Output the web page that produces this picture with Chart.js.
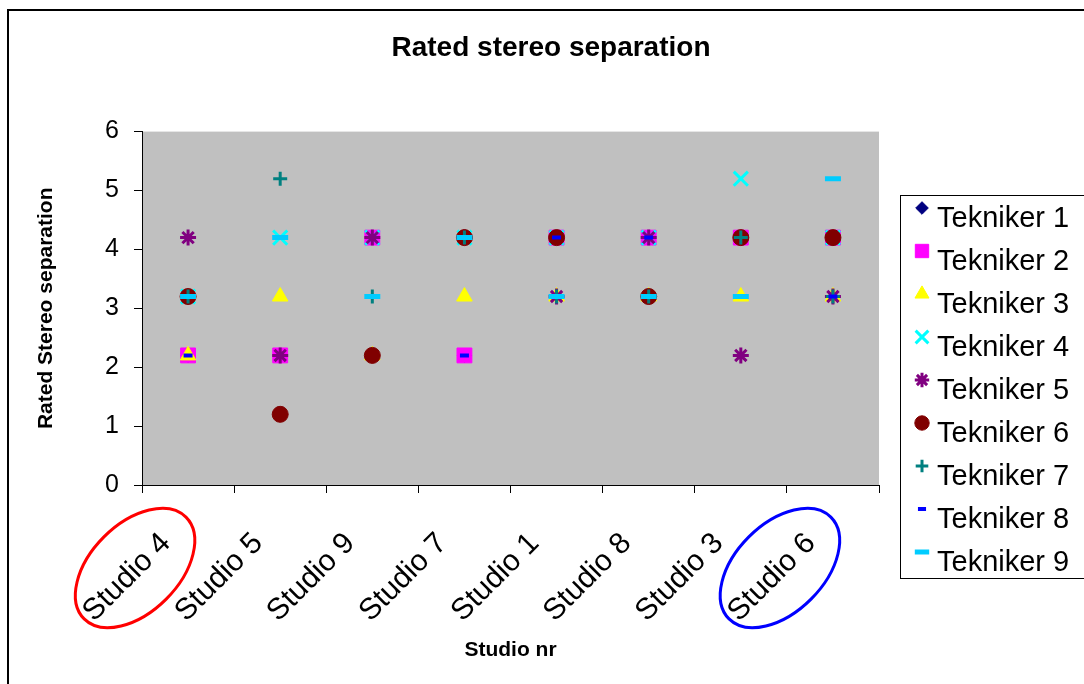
<!DOCTYPE html>
<html>
<head>
<meta charset="utf-8">
<title>Rated stereo separation</title>
<script src="https://cdn.jsdelivr.net/npm/chart.js@4/dist/chart.umd.min.js"></script>
<style>
    body { margin: 0; background: #ffffff; }
    #wrap { width: 1084px; height: 684px; }
</style>
</head>
<body>
<div id="wrap"><canvas id="chartjs-0" width="1084" height="684"></canvas></div>
<script>
var studios = ["Studio 4", "Studio 5", "Studio 9", "Studio 7", "Studio 1", "Studio 8", "Studio 3", "Studio 6"];
var yTicks = [0, 1, 2, 3, 4, 5, 6];

var tekniker1 = [2.2, 2.2, 4.2, 2.2, 4.2, 4.2, 4.2, 4.2];
var tekniker2 = [2.2, 2.2, 4.2, 2.2, 4.2, 4.2, 4.2, 4.2];
var tekniker3 = [2.2, 3.2, 2.2, 3.2, 3.2, 3.2, 3.2, 3.2];
var tekniker4 = [3.2, 4.2, 4.2, 4.2, 4.2, 4.2, 5.2, 4.2];
var tekniker5 = [4.2, 2.2, 4.2, 4.2, 3.2, 4.2, 2.2, 3.2];
var tekniker6 = [3.2, 1.2, 2.2, 4.2, 4.2, 3.2, 4.2, 4.2];
var tekniker7 = [3.2, 5.2, 3.2, 4.2, 3.2, 3.2, 4.2, 3.2];
var tekniker8 = [2.2, 4.2, 3.2, 2.2, 4.2, 4.2, 3.2, 3.2];
var tekniker9 = [3.2, 4.2, 3.2, 4.2, 3.2, 3.2, 3.2, 5.2];

// studios that are circled below the axis
var circled = [["Studio 4", "#ff0000"], ["Studio 6", "#0000ff"]];

Chart.defaults.font.family = "'Liberation Sans', Arial, sans-serif";
Chart.defaults.color = "#000000";

function series(label, values, style, color, radius, border, order) {
    return {
        "label": label,
        "data": values,
        "showLine": false,
        "order": order,
        "yAxisID": "y",
        "pointStyle": style,
        "pointRadius": radius,
        "pointHoverRadius": radius,
        "pointBorderWidth": border,
        "pointBackgroundColor": color,
        "pointBorderColor": color,
        "backgroundColor": color,
        "borderColor": color
    };
}

// excel draws series 1 first, so the last series has to end on top
var datasets = [
    series("Tekniker 1", tekniker1, "rectRot", "#000080", 7, 1, 9),
    series("Tekniker 2", tekniker2, "rect", "#ff00ff", 10.5, 1, 8),
    series("Tekniker 3", tekniker3, "triangle", "#ffff00", 9, 1, 7),
    series("Tekniker 4", tekniker4, "crossRot", "#00ffff", 10, 3, 6),
    series("Tekniker 5", tekniker5, "star", "#800080", 8, 3, 5),
    series("Tekniker 6", tekniker6, "circle", "#800000", 8, 1, 4),
    series("Tekniker 7", tekniker7, "cross", "#008080", 7, 3, 3),
    series("Tekniker 8", tekniker8, "line", "#0000ff", 4.5, 4, 2),
    series("Tekniker 9", tekniker9, "line", "#00ccff", 8, 5, 1)
];

var plotBackground = {
    id: "plotBackground",
    beforeDraw: function(chart) {
        var ctx = chart.ctx;
        var a = chart.chartArea;
        ctx.save();
        ctx.fillStyle = "#ffffff";
        ctx.fillRect(0, 0, chart.width, chart.height);
        ctx.strokeStyle = "#000000";
        ctx.lineWidth = 2;
        ctx.strokeRect(8, 10, chart.width + 50, chart.height + 50);
        ctx.fillStyle = "#c0c0c0";
        ctx.fillRect(a.left, a.top, a.right - a.left, a.bottom - a.top);
        ctx.restore();
    }
};

var legendBox = {
    id: "legendBox",
    afterDraw: function(chart) {
        var ctx = chart.ctx;
        ctx.save();
        ctx.fillStyle = "#ffffff";
        ctx.fillRect(900, 195, 200, 383);
        ctx.strokeStyle = "#000000";
        ctx.lineWidth = 1;
        ctx.strokeRect(900.5, 195.5, 200, 383);
        ctx.font = "29px 'Liberation Sans', Arial, sans-serif";
        ctx.textBaseline = "middle";
        ctx.textAlign = "left";
        for (var i = 0; i < chart.data.datasets.length; i++) {
            var ds = chart.data.datasets[i];
            var y = 219 + i * 43;
            ctx.fillStyle = ds.pointBackgroundColor;
            ctx.strokeStyle = ds.pointBorderColor;
            ctx.lineWidth = ds.pointBorderWidth;
            Chart.helpers.drawPoint(ctx, {
                pointStyle: ds.pointStyle,
                radius: ds.pointRadius * 0.9,
                borderWidth: ds.pointBorderWidth,
                rotation: 0
            }, 922, y - 11);
            ctx.fillStyle = "#000000";
            ctx.fillText(ds.label, 937, y);
        }
        ctx.restore();
    }
};

var circleLabels = {
    id: "circleLabels",
    afterDraw: function(chart) {
        var ctx = chart.ctx;
        var xs = chart.scales.x;
        ctx.save();
        ctx.lineWidth = 3;
        for (var i = 0; i < circled.length; i++) {
            var idx = studios.indexOf(circled[i][0]);
            var cx = xs.getPixelForValue(idx) - 53;
            var cy = chart.chartArea.bottom + 83;
            ctx.strokeStyle = circled[i][1];
            ctx.beginPath();
            ctx.ellipse(cx, cy, 72, 44, -Math.PI / 4, 0, Math.PI * 2);
            ctx.stroke();
        }
        ctx.restore();
    }
};

var ctx0 = document.getElementById("chartjs-0");
var myChart = new Chart(ctx0, {
    "type": "line",
    "data": {
        "labels": studios,
        "datasets": datasets
    },
    "options": {
        responsive: false,
        animation: false,
        devicePixelRatio: 1,
        layout: { padding: { left: 30, right: 12, top: 0, bottom: 0 } },
        plugins: {
            legend: { display: false },
            tooltip: { enabled: false },
            title: {
                display: true,
                text: "Rated stereo separation",
                font: { size: 28, weight: "bold" },
                padding: { top: 31, bottom: 67 }
            }
        },
        scales: {
            x: {
                offset: true,
                grid: { offset: true, drawOnChartArea: false, drawTicks: true, tickLength: 8, color: "#000000" },
                border: { display: true, color: "#000000", width: 1 },
                ticks: { font: { size: 30 }, maxRotation: 45, minRotation: 45, labelOffset: -22, padding: 33, autoSkip: false },
                title: { display: true, text: "Studio nr", font: { size: 21, weight: "bold" }, padding: { top: 0, bottom: 21 } },
                afterFit: function(scale) { scale.height = 199; }
            },
            y: {
                min: 0,
                max: 6,
                afterBuildTicks: function(scale) {
                    scale.ticks = yTicks.map(function(v) { return { value: v }; });
                },
                grid: { drawOnChartArea: false, drawTicks: true, tickLength: 8, color: "#000000" },
                border: { display: true, color: "#000000", width: 1 },
                ticks: { font: { size: 25 }, padding: 15 },
                title: { display: true, text: "Rated Stereo separation", font: { size: 21, weight: "bold" }, padding: { top: 4, bottom: 0 } },
                afterFit: function(scale) { scale.width = 112; }
            },
            // empty space on the right for the legend box
            yRight: {
                position: "right",
                display: true,
                grid: { display: false },
                border: { display: false },
                ticks: { display: false },
                afterFit: function(scale) { scale.width = 193; }
            }
        }
    },
    plugins: [plotBackground, legendBox, circleLabels]
});
</script>
</body>
</html>
